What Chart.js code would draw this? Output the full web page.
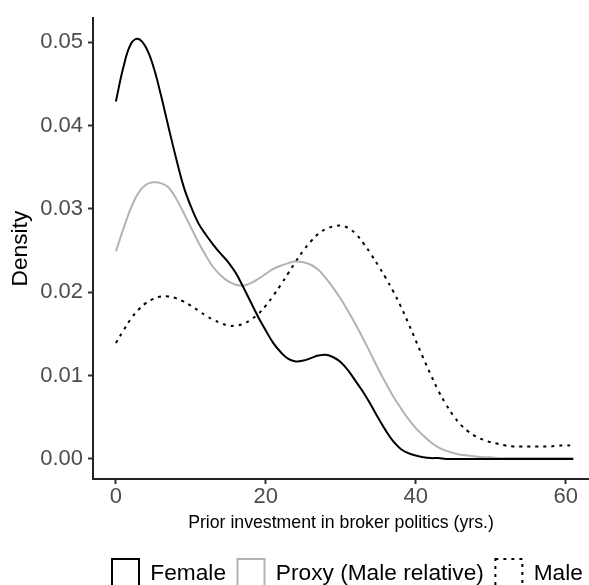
<!DOCTYPE html>
<html><head><meta charset="utf-8">
<script src="https://cdn.jsdelivr.net/npm/chart.js@4.4.1/dist/chart.umd.min.js"></script>
<style>html,body{margin:0;padding:0;background:#fff;} canvas{display:block;}</style>
</head><body>
<canvas id="c" width="589" height="585"></canvas>
<script>
const years = [0,1,2,3,4,5,6,7,8,9,10,11,12,13,14,15,16,17,18,19,20,21,22,23,24,25,26,27,28,29,30,31,32,33,34,35,36,37,38,39,40,41,42,43,44,45,46,47,48,49,50,51,52,53,54,55,56,57,58,59,60,61];
const female = [0.0429,0.0470,0.0498,0.0504,0.0494,0.0471,0.0437,0.0399,0.0362,0.0328,0.0303,0.0283,0.0269,0.0257,0.0246,0.0236,0.0223,0.0206,0.0188,0.0170,0.0154,0.0139,0.0128,0.0120,0.0117,0.0118,0.0121,0.0124,0.0125,0.0122,0.0116,0.0106,0.0093,0.0080,0.0065,0.0049,0.0034,0.0021,0.0012,0.0007,0.0004,0.0002,0.0001,0.0001,0,0,0,0,0,0,0,0,0,0,0,0,0,0,0,0,0,0];
const proxy = [0.0249,0.0276,0.0301,0.0319,0.0329,0.0332,0.0331,0.0326,0.0313,0.0296,0.0278,0.0260,0.0244,0.0230,0.0220,0.0213,0.0209,0.0208,0.0211,0.0216,0.0222,0.0228,0.0232,0.0235,0.0237,0.0236,0.0233,0.0227,0.0217,0.0205,0.0192,0.0177,0.0161,0.0144,0.0126,0.0108,0.0091,0.0075,0.0061,0.0048,0.0037,0.0028,0.0020,0.0014,0.0010,0.0007,0.0005,0.0004,0.0003,0.0002,0.0002,0.0001,0.0001,0.0001,0.0001,0.0001,0.0001,0.0001,0.0001,0.0001,0.0001,0.0001];
const male = [0.0139,0.0154,0.0168,0.0179,0.0187,0.0192,0.0195,0.0195,0.0193,0.0189,0.0184,0.0178,0.0172,0.0167,0.0163,0.0160,0.0160,0.0162,0.0167,0.0174,0.0184,0.0196,0.0209,0.0223,0.0237,0.0250,0.0261,0.0270,0.0276,0.0279,0.0280,0.0277,0.0270,0.0259,0.0246,0.0232,0.0217,0.0201,0.0183,0.0163,0.0142,0.0121,0.0101,0.0082,0.0066,0.0052,0.0041,0.0033,0.0027,0.0023,0.0020,0.0018,0.0016,0.0015,0.0015,0.0015,0.0015,0.0015,0.0015,0.0016,0.0016,0.0017];
const seriesNames = ['Female','Proxy (Male relative)','Male'];
const xTicks = [0,20,40,60];
const yTicks = [0,0.01,0.02,0.03,0.04,0.05];

const FONT = '"Liberation Sans", Arial, Helvetica, sans-serif';
function pts(ys){ return ys.map((y,i)=>({x:years[i], y:y})); }

const legendPlace = {
  id:'legendPlace',
  afterLayout(chart){
    const lg = chart.legend;
    if(!lg) return;
    const h = lg.height;
    lg.left = 112 - 11.5;
    lg.right = 900;
    lg.top = 559 - 11.5;
    lg.bottom = lg.top + h;
  }
};

const common = {pointRadius:0, pointHoverRadius:0, borderWidth:2, fill:false, tension:0.4, backgroundColor:'#ffffff'};

new Chart(document.getElementById('c').getContext('2d'), {
  type:'line',
  data:{datasets:[
    Object.assign({label:seriesNames[0], data:pts(female), borderColor:'#000000'}, common),
    Object.assign({label:seriesNames[1], data:pts(proxy), borderColor:'#B3B3B3'}, common),
    Object.assign({label:seriesNames[2], data:pts(male), borderColor:'#000000', borderDash:[3,5]}, common)
  ]},
  options:{
    responsive:false, animation:false, devicePixelRatio:1,
    layout:{padding:{top:14,left:0,right:0,bottom:0}},
    plugins:{
      legend:{position:'bottom', align:'start',
        labels:{boxWidth:27, boxHeight:30, padding:11.5, color:'#000000', font:{family:FONT, size:22.7}}},
      tooltip:{enabled:false}
    },
    scales:{
      x:{type:'linear', min:-3.05, max:63.1,
        afterBuildTicks(s){ s.ticks = xTicks.map(v=>({value:v})); },
        afterFit(s){ s.height = 54.5; },
        ticks:{padding:0, maxRotation:0, autoSkip:false, color:'#4D4D4D', font:{family:FONT, size:22}, callback:v=>String(v)},
        grid:{display:true, drawOnChartArea:false, drawTicks:true, tickLength:5, tickWidth:2, tickColor:'#333333'},
        border:{display:true, color:'#222222', width:2},
        title:{display:true, text:'Prior investment in broker politics (yrs.)', color:'#000000', font:{family:FONT, size:17.7}, padding:{top:0,bottom:0}}
      },
      y:{type:'linear', min:-0.00241, max:0.05289,
        afterBuildTicks(s){ s.ticks = yTicks.map(v=>({value:v})); },
        afterFit(s){ s.width = 93; },
        ticks:{padding:5, autoSkip:false, color:'#4D4D4D', font:{family:FONT, size:22}, callback:v=>Number(v).toFixed(2)},
        grid:{display:true, drawOnChartArea:false, drawTicks:true, tickLength:5, tickWidth:2, tickColor:'#333333'},
        border:{display:true, color:'#222222', width:2},
        title:{display:true, text:'Density', color:'#000000', font:{family:FONT, size:22.7}, padding:{top:7,bottom:0}}
      }
    }
  },
  plugins:[legendPlace]
});
</script>
</body></html>
